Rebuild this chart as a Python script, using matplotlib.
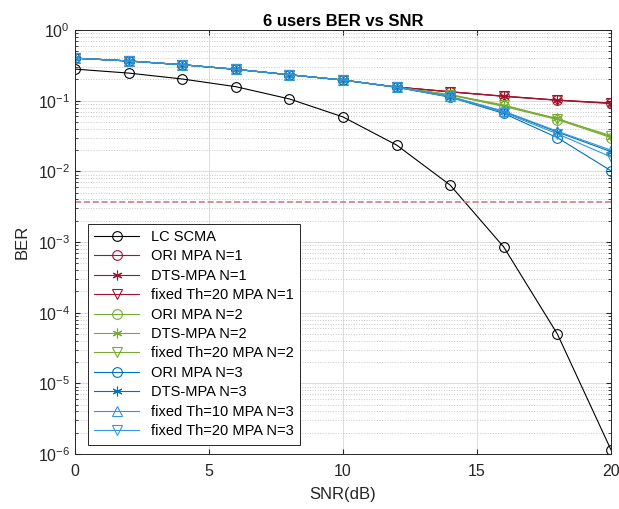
import numpy as np
import matplotlib.pyplot as plt
from matplotlib.ticker import LogLocator, NullFormatter

plt.rcParams['font.family'] = ['Liberation Sans', 'DejaVu Sans']

snr = [0, 2, 4, 6, 8, 10, 12, 14, 16, 18, 20]

lc_scma = [0.28, 0.246, 0.203, 0.158, 0.106, 0.059, 0.0236, 0.0064, 8.5e-4, 5.0e-5, 1.15e-6]

ori_n1 = [0.40, 0.365, 0.323, 0.278, 0.233, 0.196, 0.156, 0.134, 0.116, 0.102, 0.092]
dts_n1 = [0.40, 0.365, 0.323, 0.278, 0.233, 0.196, 0.156, 0.133, 0.115, 0.101, 0.091]
fix20_n1 = [0.40, 0.365, 0.323, 0.278, 0.233, 0.196, 0.156, 0.134, 0.116, 0.102, 0.093]

ori_n2 = [0.40, 0.365, 0.323, 0.278, 0.233, 0.196, 0.155, 0.120, 0.083, 0.054, 0.030]
dts_n2 = [0.40, 0.365, 0.323, 0.278, 0.233, 0.196, 0.155, 0.121, 0.085, 0.056, 0.031]
fix20_n2 = [0.40, 0.365, 0.323, 0.278, 0.233, 0.196, 0.155, 0.122, 0.087, 0.055, 0.032]

ori_n3 = [0.40, 0.365, 0.323, 0.278, 0.233, 0.196, 0.155, 0.112, 0.066, 0.030, 0.0102]
dts_n3 = [0.40, 0.365, 0.323, 0.278, 0.233, 0.196, 0.155, 0.114, 0.070, 0.036, 0.019]
fix10_n3 = [0.40, 0.365, 0.323, 0.278, 0.233, 0.196, 0.155, 0.115, 0.071, 0.037, 0.020]
fix20_n3 = [0.40, 0.365, 0.323, 0.278, 0.233, 0.196, 0.155, 0.113, 0.068, 0.034, 0.016]

threshold = 0.0037

red = '#A2142F'
green = '#77AC30'
blue = '#0072BD'
lblue = '#3596DA'
star = (6, 2, 0)  # asterisk like matlab '*'

series = [
    (lc_scma, 'k', 'o', 'LC SCMA'),
    (ori_n1, red, 'o', 'ORI MPA N=1'),
    (dts_n1, red, star, 'DTS-MPA N=1'),
    (fix20_n1, red, 'v', 'fixed Th=20 MPA N=1'),
    (ori_n2, green, 'o', 'ORI MPA N=2'),
    (dts_n2, green, star, 'DTS-MPA N=2'),
    (fix20_n2, green, 'v', 'fixed Th=20 MPA N=2'),
    (ori_n3, blue, 'o', 'ORI MPA N=3'),
    (dts_n3, blue, star, 'DTS-MPA N=3'),
    (fix10_n3, lblue, '^', 'fixed Th=10 MPA N=3'),
    (fix20_n3, lblue, 'v', 'fixed Th=20 MPA N=3'),
]

fig = plt.figure(figsize=(6.19, 5.09), dpi=100)
ax = fig.add_axes([0.121, 0.108, 0.866, 0.833])

for y, c, m, lab in series:
    ax.semilogy(snr, y, color=c, marker=m, markersize=7, markerfacecolor='none',
                markeredgewidth=0.8, linewidth=0.8, label=lab)

ax.axhline(threshold, color='#D07A8C', linestyle='--', linewidth=1.2)

ax.set_xlim(0, 20)
ax.set_ylim(1e-6, 1)
ax.set_xticks([0, 5, 10, 15, 20])
ax.yaxis.set_major_locator(LogLocator(base=10, numticks=10))
ax.yaxis.set_minor_locator(LogLocator(base=10, subs=np.arange(2, 10), numticks=10))
ax.yaxis.set_minor_formatter(NullFormatter())

ax.grid(True, which='major', color='#dcdcdc', linewidth=0.7)
ax.grid(True, which='minor', axis='y', color='#c8c8c8', linestyle=':', linewidth=0.7)
ax.set_axisbelow(True)

ax.tick_params(direction='in', which='both', labelsize=11.5, colors='#262626',
               top=True, right=True)
ax.tick_params(axis='x', pad=7)
for s in ax.spines.values():
    s.set_color('#262626')
    s.set_linewidth(0.7)

ax.set_xlabel('SNR(dB)', fontsize=12, color='#262626', labelpad=6)
ax.set_ylabel('BER', fontsize=12, color='#262626', labelpad=6)
ax.set_title('6 users BER vs SNR', fontsize=12, fontweight='bold', pad=3)

leg = ax.legend(loc='lower left', fontsize=10.5, handlelength=3.1, fancybox=False,
                framealpha=1, edgecolor='#262626', borderpad=0.45, labelspacing=0.37,
                bbox_to_anchor=(0.01, 0.005))
leg.get_frame().set_linewidth(0.7)

fig.savefig('out.png', dpi=100)
